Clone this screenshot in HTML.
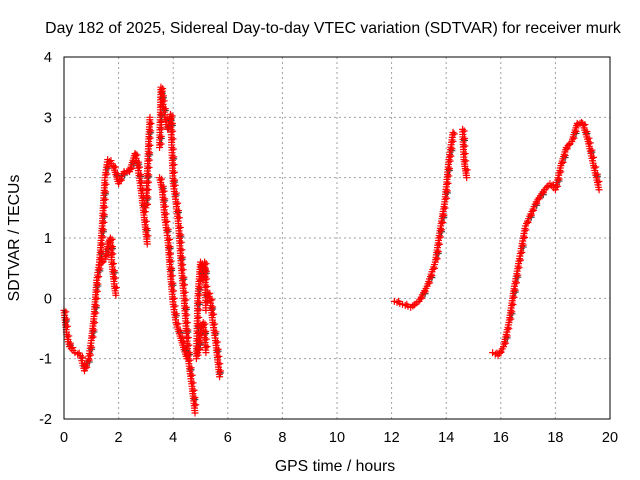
<!DOCTYPE html>
<html><head><meta charset="utf-8"><style>
body{margin:0;background:#fff}
svg{display:block;font-family:"Liberation Sans",sans-serif}
</style></head><body>
<svg id="c" width="640" height="480">
<text x="333" y="33" text-anchor="middle" font-size="15.8">Day 182 of 2025, Sidereal Day-to-day VTEC variation (SDTVAR) for receiver murk</text>
<text x="335" y="471" text-anchor="middle" font-size="15.8">GPS time / hours</text>
<text transform="translate(19,238) rotate(-90)" text-anchor="middle" font-size="15.8">SDTVAR / TECUs</text>
<g id="grid"></g>
<g id="marks"></g>
<rect x="64" y="57" width="546" height="362" fill="none" stroke="#000"/>
</svg>
<script>
const xTicks=[0,2,4,6,8,10,12,14,16,18,20];
const yTicks=[-2,-1,0,1,2,3,4];
const trackA=[[0,-0.2],[0.1,-0.6],[0.2,-0.8],[0.4,-0.9],[0.6,-0.95],[0.75,-1.2],[0.9,-1.0],[1.0,-0.7],[1.1,-0.3],[1.2,0.3],[1.3,0.6],[1.4,1.2],[1.5,2.0],[1.6,2.3],[1.8,2.2],[2.0,1.9],[2.2,2.1],[2.4,2.1],[2.6,2.4],[2.7,2.2],[2.85,1.7],[2.95,1.3],[3.05,0.9]];
const trackB=[[1.3,0.55],[1.5,0.65],[1.6,0.9],[1.7,1.0],[1.75,0.6],[1.85,0.2],[1.9,0.05]];
const trackC=[[3.0,1.5],[3.1,2.6],[3.15,3.0]];
const trackD=[[3.5,2.5],[3.55,3.5],[3.6,3.3],[3.7,3.0],[3.8,2.8],[3.9,3.05],[3.95,2.5],[4.0,1.9],[4.1,1.6],[4.2,1.2],[4.3,0.5],[4.4,0],[4.55,-1],[4.7,-1.5],[4.8,-1.9]];
const trackE=[[3.5,2.0],[3.6,1.8],[3.7,1.3],[3.8,1.0],[3.9,0.4],[4.0,-0.1],[4.1,-0.4],[4.3,-0.7],[4.5,-1.0]];
const trackF=[[4.85,-1.0],[4.9,0],[5.0,0.6],[5.1,0.3],[5.15,0.6],[5.2,-0.2]];
const trackG=[[4.9,-0.9],[5.0,-0.5],[5.1,-0.4],[5.2,-0.9]];
const trackH=[[5.25,0.1],[5.35,0.0],[5.45,-0.4],[5.55,-0.7],[5.7,-1.3]];
const trackI=[[12.1,-0.05],[12.4,-0.1],[12.7,-0.15],[13.0,-0.05],[13.3,0.2],[13.6,0.6],[13.8,1.2],[13.95,1.6],[14.1,2.3],[14.25,2.75]];
const trackK=[[14.6,2.8],[14.65,2.3],[14.7,2.15],[14.75,2.0]];
const trackJ=[[15.7,-0.9],[15.9,-0.95],[16.1,-0.8],[16.3,-0.4],[16.5,0.2],[16.7,0.7],[16.9,1.2],[17.1,1.4],[17.3,1.6],[17.6,1.8],[17.8,1.9],[18.0,1.8],[18.2,2.2],[18.4,2.5],[18.6,2.6],[18.8,2.9],[19.0,2.9],[19.2,2.6],[19.4,2.2],[19.6,1.8]];
const tracks=[trackA,trackB,trackC,trackD,trackE,trackF,trackG,trackH,trackI,trackK,trackJ];
const NS="http://www.w3.org/2000/svg";
const X=v=>64+v*546/20, Y=v=>419-(v+2)*362/6;
const grid=document.getElementById('grid'), marks=document.getElementById('marks'), svg=document.getElementById('c');
function mk(t,a,p){const e=document.createElementNS(NS,t);for(const k in a)e.setAttribute(k,a[k]);(p||svg).appendChild(e);return e;}
xTicks.forEach(t=>{const x=X(t);
 if(t>0&&t<20){const l=mk('line',{x1:x,x2:x,y1:57,y2:419,stroke:'#a0a0a0','stroke-dasharray':'2,3'},grid);
 
 }
 const lb=mk('text',{x:x,y:442,'text-anchor':'middle','font-size':'14.5'});lb.textContent=t;
 
 
});
yTicks.forEach(t=>{const y=Y(t);
 if(t>-2&&t<4){const l=mk('line',{x1:64,x2:610,y1:y,y2:y,stroke:'#a0a0a0','stroke-dasharray':'2,3'},grid);
 
 }
 const lb=mk('text',{x:52,y:y+5,'text-anchor':'end','font-size':'14.5'});lb.textContent=t;
 
 
});
function plus(x,y,c){const p=mk('path',{d:`M${x-3.5},${y}h7M${x},${y-3.5}v7`,stroke:c,'stroke-width':1.2,fill:'none'},marks);
 
 }
tracks.forEach(tr=>{
 for(let i=0;i<tr.length;i++){
  const x0=X(tr[i][0]),y0=Y(tr[i][1]);
  if(i===tr.length-1){plus(x0,y0,'#f00');break;}
  const x1=X(tr[i+1][0]),y1=Y(tr[i+1][1]);
  const n=Math.max(1,Math.round(Math.hypot(x1-x0,y1-y0)/2.5));
  for(let k=0;k<n;k++){const f=k/n;const x=x0+(x1-x0)*f,y=y0+(y1-y0)*f;
   if(k%9===4)plus(x+1.5,y+1,'#444');
   plus(x,y,'#f00');
   if(k%3===1)plus(x+1.5,y-1,'#f00');}
 }
});
</script>
</body></html>
